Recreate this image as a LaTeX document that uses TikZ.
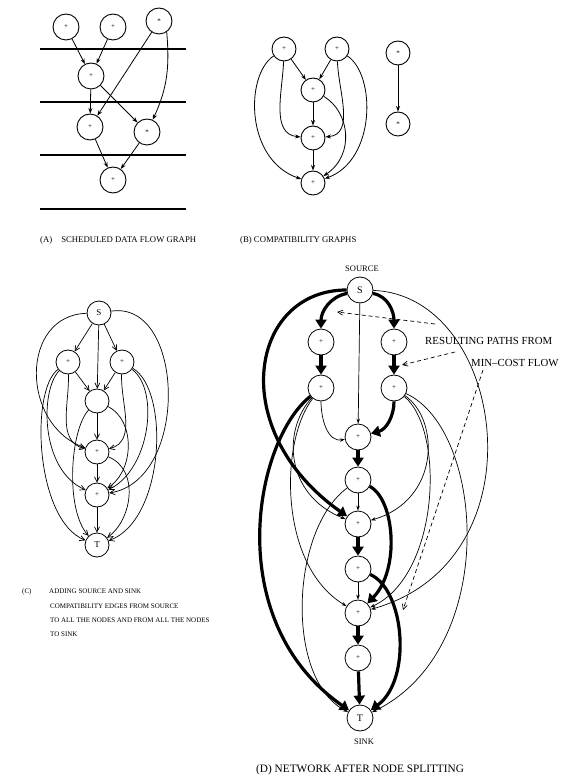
\documentclass[tikz,border=0pt]{standalone}
\usepackage{fontspec}
\setmainfont{Liberation Serif}
\usetikzlibrary{arrows.meta}
\begin{document}
\begin{tikzpicture}[x=1pt,y=1pt,
  nA/.style={circle,draw,line width=0.9pt,minimum size=26pt,inner sep=0pt,font=\fontsize{7}{7}\selectfont},
  nB/.style={circle,draw,line width=0.9pt,minimum size=24pt,inner sep=0pt,font=\fontsize{7}{7}\selectfont},
  nC/.style={circle,draw,line width=0.8pt,minimum size=24pt,inner sep=0pt,font=\fontsize{7}{7}\selectfont},
  nD/.style={circle,draw,line width=0.8pt,minimum size=26pt,inner sep=0pt,font=\fontsize{7}{7}\selectfont},
  bigtxt/.style={font=\fontsize{10}{11}\selectfont},
  hl/.style={line width=1.1pt},
  ea/.style={line width=0.8pt,-{Stealth[length=5.5pt,width=4pt]}},
  ec/.style={line width=0.7pt,-{Straight Barb[length=5pt,width=5pt]}},
  thn/.style={line width=0.7pt,-{Stealth[length=5pt,width=3.5pt]}},
  thk/.style={line width=3.2pt,-{Triangle[length=9pt,width=11pt]}},
  dsh/.style={line width=0.7pt,dash pattern=on 4pt off 3pt,-{Straight Barb[length=5pt,width=5pt]}},
  captxt/.style={font=\fontsize{8.7}{10}\selectfont,anchor=base west,inner sep=0pt},
  capctxt/.style={font=\fontsize{7}{8}\selectfont,anchor=base west,inner sep=0pt},
  lbltxt/.style={font=\fontsize{10.8}{12}\selectfont,anchor=base west,inner sep=0pt},
  smltxt/.style={font=\fontsize{8.5}{9}\selectfont,anchor=base,inner sep=0pt}
]
\useasboundingbox (0,0) rectangle (562,-775);

% ---------- Panel A ----------
\foreach \yy in {49,102,155,209} \draw[hl] (40,-\yy) -- (186,-\yy);
\node[nA] (a1) at (66,-27) {+};
\node[nA] (a2) at (113,-27) {+};
\node[nA] (a3) at (159,-21) {*};
\node[nA] (a4) at (91,-76) {+};
\node[nA] (a5) at (90,-127) {+};
\node[nA] (a6) at (147,-132) {*};
\node[nA] (a7) at (113,-180) {+};
\draw[ea] (a1) -- (a4);
\draw[ea] (a2) -- (a4);
\draw[ea] (a3) -- (a5);
\draw[ea] (a3.-55) to[out=-85,in=65] (a6);
\draw[ea] (a4) -- (a5);
\draw[ea] (a4) -- (a6);
\draw[ea] (a5) -- (a7);
\draw[ea] (a6) -- (a7);
\node[captxt] (capa) at (40,-243) {(A)\hspace{9pt}SCHEDULED DATA FLOW GRAPH};

% ---------- Panel B ----------
\node[nB] (b1) at (284,-49) {+};
\node[nB] (b2) at (337,-49) {+};
\node[nB] (b3) at (313,-90) {+};
\node[nB] (b4) at (313,-138) {+};
\node[nB] (b5) at (313,-183) {+};
\node[nB] (bs1) at (398,-53) {*};
\node[nB] (bs2) at (398,-124) {*};
\draw[ea] (b1) -- (b3);
\draw[ea] (b2) -- (b3);
\draw[ea] (b3) -- (b4);
\draw[ea] (b4) -- (b5);
\draw[ea] (bs1) -- (bs2);
\draw[ea] (b1) to[out=-92,in=175] (b4);
\draw[ea] (b2) to[out=-88,in=5] (b4);
\draw[ea] (b1) .. controls (245,-75) and (245,-160) .. (b5);
\draw[ea] (b2) .. controls (376,-75) and (376,-160) .. (b5);
\draw[ea] (b3) .. controls (350,-112) and (355,-155) .. (b5);
\node[captxt] (capb) at (240,-243) {(B) COMPATIBILITY GRAPHS};

% ---------- Panel C ----------
\node[nC,font=\fontsize{9}{9}\selectfont] (cS) at (99,-313) {S};
\node[nC] (cL) at (68,-362) {+};
\node[nC] (cR) at (122,-362) {+};
\node[nC] (cM) at (97,-401) {};
\node[nC] (c4) at (97,-452) {+};
\node[nC] (c5) at (97,-495) {+};
\node[nC,font=\fontsize{9}{9}\selectfont] (cT) at (97,-545) {T};
\draw[ec] (cS) -- (cL);
\draw[ec] (cS) -- (cR);
\draw[ec] (cS) -- (cM);
\draw[ec] (cS) .. controls (20,-315) and (20,-425) .. (c4);
\draw[ec] (cS) .. controls (185,-300) and (190,-480) .. (c5);
\draw[ec] (cL) -- (cM);
\draw[ec] (cR) -- (cM);
\draw[ec] (cM) -- (c4);
\draw[ec] (c4) -- (c5);
\draw[ec] (c5) -- (cT);
\draw[ec] (cL) to[out=-88,in=165] (c4);
\draw[ec] (cR) to[out=-92,in=15] (c4);
\draw[ec] (cL) .. controls (40,-390) and (40,-470) .. (c5);
\draw[ec] (cL) .. controls (30,-390) and (35,-520) .. (cT);
\draw[ec] (cM) .. controls (70,-430) and (65,-510) .. (cT);
\draw[ec] (cM) .. controls (135,-420) and (135,-470) .. (c5);
\draw[ec] (c4) .. controls (140,-470) and (132,-520) .. (cT);
\draw[ec] (cR) .. controls (160,-390) and (150,-470) .. (c5);
\draw[ec] (cR) .. controls (170,-390) and (165,-520) .. (cT);
\node[capctxt] (capc1) at (22,-593) {(C)};
\node[capctxt] (capc2) at (49,-593) {ADDING SOURCE AND SINK};
\node[capctxt] (capc3) at (50,-608) {COMPATIBILITY EDGES FROM SOURCE};
\node[capctxt] (capc4) at (50,-622) {TO ALL THE NODES AND FROM ALL THE NODES};
\node[capctxt] (capc5) at (50,-636) {TO SINK};

% ---------- Panel D ----------
\node[nD,bigtxt] (S) at (360,-290) {S};
\node[nD] (L1) at (321,-342) {+};
\node[nD] (R1) at (394,-342) {+};
\node[nD] (L2) at (321,-388) {+};
\node[nD] (R2) at (394,-388) {+};
\node[nD] (C1) at (358,-437) {+};
\node[nD] (C2) at (358,-480) {+};
\node[nD] (C3) at (358,-524) {+};
\node[nD] (C4) at (358,-569) {+};
\node[nD] (C5) at (358,-613) {+};
\node[nD] (C6) at (358,-658) {+};
\node[nD,bigtxt] (T) at (360,-718) {T};
\node[smltxt] (src) at (362,-272) {SOURCE};
\node[smltxt] (snk) at (364,-744) {SINK};

% thick flow paths
\draw[thk] (S.195) to[out=190,in=90] (L1);
\draw[thk] (S.-15) to[out=-10,in=90] (R1);
\draw[thk] (L1) -- (L2);
\draw[thk] (R1) -- (R2);
\draw[thk] (R2) to[out=-90,in=15] (C1);
\draw[thk] (C1) -- (C2);
\draw[thk] (C3) -- (C4);
\draw[thk] (C5) -- (C6);
\draw[thk] (C6) -- (T);
\draw[thk] (S) .. controls (250,-290) and (225,-430) .. (C3);
\draw[thk] (L2) .. controls (255,-440) and (220,-620) .. (T);
\draw[thk] (C2) .. controls (395,-500) and (400,-570) .. (C5);
\draw[thk] (C4) .. controls (405,-590) and (412,-680) .. (T);

% thin edges
\draw[thn] (S) -- (C1);
\draw[thn] (L2) to[out=-90,in=190] (C1);
\draw[thn] (C2) -- (C3);
\draw[thn] (C4) -- (C5);
\draw[thn] (S) .. controls (505,-295) and (545,-560) .. (C5);
\draw[thn] (L2) .. controls (282,-430) and (285,-495) .. (C3);
\draw[thn] (L2) .. controls (280,-440) and (278,-565) .. (C5);
\draw[thn] (C2) .. controls (290,-530) and (285,-680) .. (T);
\draw[thn] (R2) .. controls (440,-420) and (440,-500) .. (C3);
\draw[thn] (R2) .. controls (445,-430) and (440,-575) .. (C5);
\draw[thn] (R2) .. controls (485,-430) and (500,-650) .. (T);

% annotation
\node[lbltxt] (rp) at (425,-344) {RESULTING PATHS FROM};
\node[lbltxt] (mc) at (471,-366) {MIN\textendash COST FLOW};
\coordinate (d1s) at (435,-324);
\coordinate (d1e) at (337,-312);
\coordinate (d2s) at (455,-352);
\coordinate (d2e) at (402,-365);
\coordinate (d3s) at (483,-370);
\coordinate (d3e) at (403,-610);
\draw[dsh] (d1s) -- (d1e);
\draw[dsh] (d2s) -- (d2e);
\draw[dsh] (d3s) -- (d3e);

\node[font=\fontsize{11.3}{12}\selectfont,anchor=base west,inner sep=0pt] (capd) at (256,-772) {(D) NETWORK AFTER NODE SPLITTING};
\end{tikzpicture}
\end{document}
